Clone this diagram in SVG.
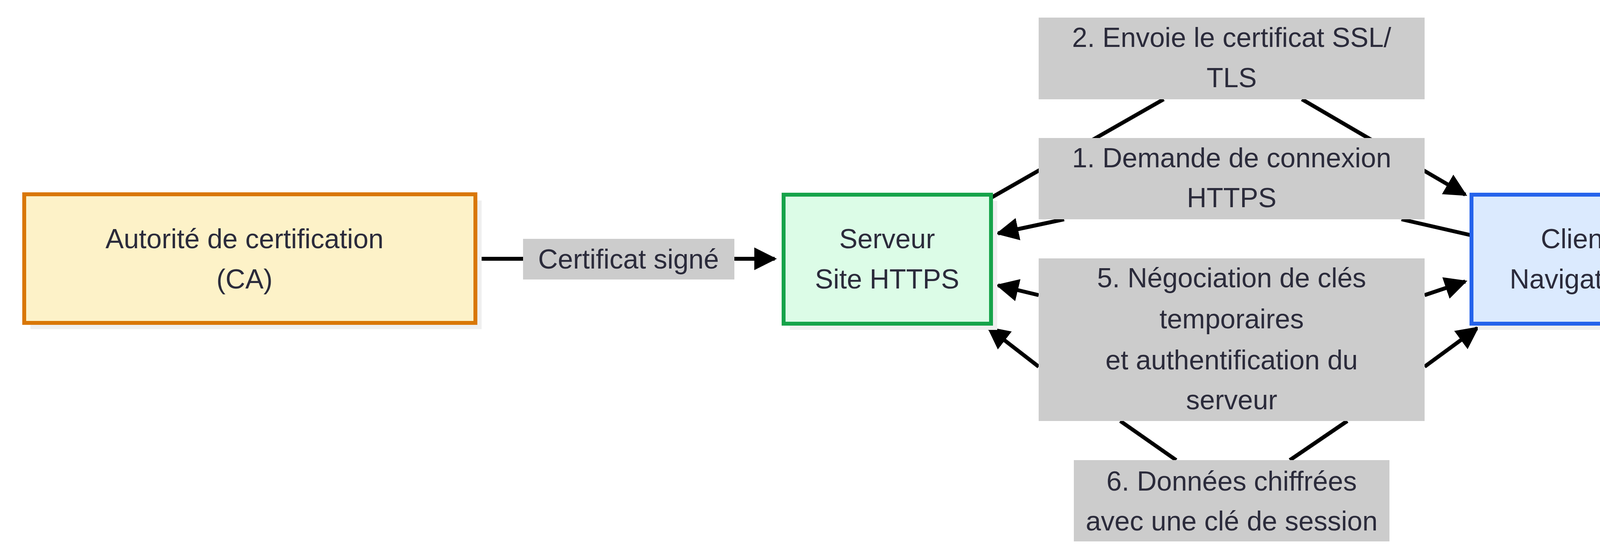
<svg xmlns="http://www.w3.org/2000/svg" width="6446" height="1430" viewBox="0 0 6446 1430">
<style>
text{font-family:"Liberation Sans",Arial,sans-serif;font-size:70px;fill:#2b2b3b;text-anchor:middle;dominant-baseline:central}
.shadow{fill:#efefef}
.lbl{fill:#cccccc}
.c{fill:none;stroke:#000;stroke-width:10}
</style>
<defs>
<marker id="ah" viewBox="0 0 10 10" refX="9" refY="5" markerUnits="userSpaceOnUse" markerWidth="58" markerHeight="60" orient="auto-start-reverse">
<path d="M0,0 L10,5 L0,10 z" fill="#000"/>
</marker>
</defs>
<rect width="6446" height="1430" fill="#fff"/>
<g id="connectors">
<path class="c" d="M1217,662 L1983,662" marker-end="url(#ah)"/>
<path class="c" d="M2537,506 L2979,254 M3333,254 L3751,498" marker-end="url(#ah)"/>
<path class="c" d="M3767,602 L3588,561 M2724,561 L2555,597" marker-end="url(#ah)"/>
<path class="c" d="M2659,755 L2555,730" marker-end="url(#ah)"/>
<path class="c" d="M3647,755 L3751,720" marker-end="url(#ah)"/>
<path class="c" d="M2659,938 L2531,839" marker-end="url(#ah)"/>
<path class="c" d="M2868,1077 L3011,1177"/>
<path class="c" d="M3302,1177 L3449,1077"/>
<path class="c" d="M3647,938 L3782,839" marker-end="url(#ah)"/>
<path class="c" d="M4302,636 C4600,575 4850,570 5231,622" marker-end="url(#ah)"/>
<path class="c" d="M5247,702 L5124,716 M4422,707 L4322,693" marker-end="url(#ah)"/>
</g>
<g id="lbl-signe"><rect class="lbl" x="1339" y="611" width="541" height="104"/><text x="1609" y="663">Certificat signé</text></g>
<g id="lbl-2"><rect class="lbl" x="2659" y="45" width="988" height="209"/><text x="3153" y="96">2. Envoie le certificat SSL/</text><text x="3153" y="199">TLS</text></g>
<g id="lbl-1"><rect class="lbl" x="2659" y="353" width="988" height="208"/><text x="3153" y="404">1. Demande de connexion</text><text x="3153" y="506">HTTPS</text></g>
<g id="lbl-5"><rect class="lbl" x="2659" y="661" width="988" height="416"/><text x="3153" y="711">5. Négociation de clés</text><text x="3153" y="816">temporaires</text><text x="3153" y="921">et authentification du</text><text x="3153" y="1023">serveur</text></g>
<g id="lbl-6"><rect class="lbl" x="2749" y="1177" width="808" height="208"/><text x="3153" y="1231">6. Données chiffrées</text><text x="3153" y="1333">avec une clé de session</text></g>
<g id="lbl-4"><rect class="lbl" x="4422" y="687" width="702" height="103"/><text x="4773" y="739">4. Certificat accepté</text></g>
<g id="ca"><rect class="shadow" x="78" y="513" width="1155" height="329"/><rect x="62" y="497" width="1155" height="329" fill="#fdf2c8" stroke="#d97706" stroke-width="10"/><text x="626" y="611">Autorité de certification</text><text x="626" y="714">(CA)</text></g>
<g id="server"><rect class="shadow" x="2022" y="514" width="531" height="330"/><rect x="2006" y="498" width="531" height="330" fill="#dcfce7" stroke="#16a34a" stroke-width="10"/><text x="2271" y="611">Serveur</text><text x="2271" y="714">Site HTTPS</text></g>
<g id="client"><rect class="shadow" x="3783" y="514" width="535" height="330"/><rect x="3767" y="498" width="535" height="330" fill="#dbeafe" stroke="#2563eb" stroke-width="10"/><text x="4034" y="611">Client</text><text x="4034" y="714">Navigateur</text></g>
<g id="verif"><rect class="shadow" x="5263" y="358" width="1092" height="641"/><rect x="5247" y="342" width="1092" height="641" fill="#f3e5fd" stroke="#9333ea" stroke-width="10"/><text x="5793" y="456">3. Vérification du certificat</text><text x="5793" y="558">▪ Domaine</text><text x="5793" y="664">▪ Date de validité</text><text x="5793" y="768">▪ Signature de la CA</text><text x="5793" y="871">▪ Révocation éventuelle</text></g>
</svg>
